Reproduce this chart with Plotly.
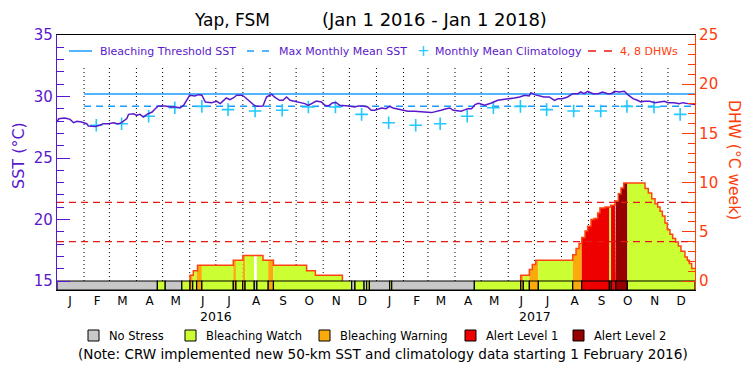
import plotly.graph_objects as go
import pandas as pd
import numpy as np

# ------------------------------------------------------------------ data
# SST (deg C), days since 2016-01-01
sst_day = [0, 2, 9, 15, 19, 23, 28, 34, 36, 44, 49, 53, 59, 65, 70, 74, 80, 82, 88, 91,
           95, 99, 103, 109, 112, 116, 124, 130, 135, 141, 145, 149, 152, 158, 162, 166, 170, 177, 183, 187,
           191, 194, 198, 202, 206, 212, 215, 221, 227, 231, 236, 240,
           246, 249, 255, 259, 263, 267, 272, 278, 284, 288, 291, 297, 303, 307, 311, 316, 320, 324,
           334, 341, 345, 351, 356, 360, 364, 372, 377, 381, 385, 389, 395, 402, 410, 416, 421, 429,
           433, 437, 440, 446, 450, 454, 460, 463, 467, 471, 475, 479, 483,
           490, 497, 505, 513, 520, 524, 530, 536, 541, 543, 547, 553, 558, 564, 570, 574, 579, 585,
           591, 597, 600, 604, 608, 614, 620, 625, 631, 635, 639, 644, 650, 654, 660, 665, 669, 673,
           679, 685, 690, 696, 700, 707, 713, 717, 723, 728, 731]
sst_val = [27.93, 28.20, 28.25, 28.14, 27.87, 27.98, 27.93, 27.79, 27.60, 27.57, 27.66, 27.79, 27.79, 27.87, 27.76, 27.87, 28.20, 28.55, 28.60, 28.47,
           28.55, 28.33, 28.55, 28.74, 28.96, 29.23, 29.23, 29.15, 29.15, 29.09, 29.28, 29.69, 30.10, 30.05, 30.15, 30.10, 29.55, 29.50, 29.61, 29.42,
           29.69, 29.88, 29.74, 29.88, 30.10, 30.10, 29.96, 29.61, 29.23, 29.20, 29.23, 29.96,
           30.18, 29.96, 29.69, 29.69, 29.96, 29.69, 29.61, 29.55, 29.42, 29.28, 29.42, 29.63, 29.55, 29.28, 29.23, 29.50, 29.50, 29.28,
           29.23, 29.15, 29.23, 29.23, 29.15, 28.88, 28.88, 29.07, 29.01, 29.20, 29.07, 29.01, 28.88, 28.80, 28.80, 28.74, 28.74, 28.69,
           28.74, 28.80, 28.88, 29.01, 29.07, 28.88, 28.80, 28.80, 28.91, 29.01, 29.01, 29.34, 29.45,
           29.30, 29.45, 29.69, 29.77, 29.82, 29.88, 29.96, 30.10, 30.04, 30.31, 30.15, 30.04, 29.96, 29.96, 29.69, 29.82, 29.82, 29.96,
           30.23, 30.23, 30.37, 30.23, 30.42, 30.23, 30.23, 30.37, 30.23, 30.23, 30.42, 30.37, 30.42, 30.15, 29.82, 29.69, 29.55, 29.61,
           29.61, 29.50, 29.55, 29.61, 29.50, 29.50, 29.42, 29.50, 29.42, 29.34, 29.34]

# Monthly mean climatology (Feb 2016 .. Dec 2017, plotted mid-month)
clim_month = ['2016-02', '2016-03', '2016-04', '2016-05', '2016-06', '2016-07', '2016-08', '2016-09',
              '2016-10', '2016-11', '2016-12', '2017-01', '2017-02', '2017-03', '2017-04', '2017-05',
              '2017-06', '2017-07', '2017-08', '2017-09', '2017-10', '2017-11', '2017-12']
clim_val = [27.66, 27.79, 28.39, 29.09, 29.20, 28.93, 28.82, 28.88, 29.15, 29.15, 28.55, 27.87,
            27.66, 27.79, 28.39, 29.09, 29.20, 28.93, 28.82, 28.82, 29.20, 29.15, 28.55]

threshold_sst = 30.2
mmm_sst = 29.2
clim_start_day = 31          # new climatology from 1 Feb 2016
dhw_levels = [4, 8]

# Degree Heating Weeks: step function, value from each day onward
dhw_day = [0, 152.4, 156.2, 161, 202, 213, 236, 248, 286, 296, 327,
           531.3, 541.2, 544.6, 548.5, 590.9, 594.7, 598.1, 601.2, 605.0, 608.0, 611.9, 615.3,
           619.5, 622.1, 627.9, 634.4, 639.4, 643.2, 646.2, 649.3, 673.7, 677.5, 681.4, 685.2,
           688.2, 690.9, 693.6, 696.6, 699.3, 702.3, 705.4, 708.8, 711.9, 714.9, 719.5, 722.2,
           724.5, 727.2]
dhw_val = [0, 0.58, 1.05, 1.60, 2.10, 2.60, 2.10, 1.60, 1.05, 0.58, 0,
           0.58, 1.16, 1.67, 2.10, 2.68, 3.29, 3.80, 4.41, 5.08, 5.56, 6.24, 6.34,
           6.91, 7.42, 7.52, 7.69, 8.13, 8.87, 9.45, 9.96, 9.39, 8.95, 8.37, 7.86,
           7.52, 7.08, 6.60, 5.89, 5.22, 4.75, 4.31, 3.97, 3.56, 3.02, 2.45, 2.10,
           1.77, 1.26]

# Bleaching alert level runs (0 No Stress, 1 Watch, 2 Warning, 3 Alert 1, 4 Alert 2)
stress_start = [0, 115, 124, 143, 152.4, 155.5, 160, 166, 202, 205, 212.7, 215.5, 226, 229, 242, 248,
                337.6, 341.4, 351.8, 354.8, 357.9, 381.2, 383.5, 478.2, 531.3, 534.3, 541.2, 551.5,
                590.9, 601.2, 632.9, 634.8, 640.2, 653.5]
stress_end = stress_start[1:] + [731]
stress_level = [0, 1, 0, 1, 2, 1, 2, 1, 2, 1, 2, 1, 0, 1, 2, 1,
                0, 1, 0, 1, 0, 1, 0, 1, 2, 1, 2, 1,
                2, 3, 1, 3, 4, 1]
level_names = ['No Stress', 'Bleaching Watch', 'Bleaching Warning', 'Alert Level 1', 'Alert Level 2']
month_letters = ['J', 'F', 'M', 'A', 'M', 'J', 'J', 'A', 'S', 'O', 'N', 'D']
years = ['2016', '2017']

# ------------------------------------------------------------------ style
PURPLE = '#5a18cc'
BLUE = '#1a9cff'
CYAN = '#22c8ff'
AXRED = '#ff3c0c'
DHWLINE = '#ff4412'
DASHRED = '#e81818'
level_colors = ['#c8c8c8', '#ccff33', '#faaa0a', '#ee0000', '#960000']
area_colors = ['#ffffff', '#ccff33', '#faaa0a', '#ee0000', '#960000']
FONT = 'DejaVu Sans'
BAR_BOTTOM = -0.915
Y2_RANGE = [BAR_BOTTOM, 25]
Y_RANGE = [15 + BAR_BOTTOM * 0.8, 35]
N_DAYS = 731

base = pd.Timestamp('2016-01-01')


def dt(d):
    return base + pd.to_timedelta(d, unit='D')


def dts(ds):
    return [None if d is None else dt(d) for d in ds]


def dhw_at(t):
    i = np.searchsorted(dhw_day, t, side='right') - 1
    return dhw_val[max(i, 0)]


fig = go.Figure()

# dotted month grid (drawn under the DHW fills)
gx, gy = [], []
for m in pd.date_range('2016-02-01', '2017-12-01', freq='MS'):
    gx += [m, m, None]
    gy += [15, 32.4, None]
fig.add_trace(go.Scatter(x=gx, y=gy, mode='lines', yaxis='y',
                         line=dict(color='black', width=1, dash='1px,3px'), hoverinfo='skip'))

# threshold & MMM lines
fig.add_trace(go.Scatter(x=[dt(clim_start_day), dt(N_DAYS)], y=[threshold_sst] * 2, mode='lines',
                         line=dict(color=BLUE, width=1.5), name='Bleaching Threshold SST'))
fig.add_trace(go.Scatter(x=[dt(clim_start_day), dt(N_DAYS)], y=[mmm_sst] * 2, mode='lines',
                         line=dict(color=BLUE, width=1.5, dash='7px,5px'), name='Max Monthly Mean SST'))
# climatology crosses
fig.add_trace(go.Scatter(x=[pd.Timestamp(m + '-15') for m in clim_month], y=clim_val, mode='markers',
                         marker=dict(symbol='cross-thin', size=9, line=dict(color=CYAN, width=1.6)),
                         name='Monthly Mean Climatology'))
# SST
fig.add_trace(go.Scatter(x=dts(sst_day), y=sst_val, mode='lines',
                         line=dict(color=PURPLE, width=1.5), name='SST'))

# DHW area, filled by alert level
for a, b, lev in zip(stress_start, stress_end, stress_level):
    xs, ys = [a], [0.0]
    cur = dhw_at(a)
    xs.append(a); ys.append(cur)
    for t in dhw_day:
        if a < t < b:
            xs += [t, t]
            ys += [cur, dhw_at(t)]
            cur = dhw_at(t)
    xs += [b, b]
    ys += [cur, 0.0]
    if max(ys) <= 0:
        continue
    fig.add_trace(go.Scatter(x=dts(xs), y=ys, mode='lines', fill='toself', yaxis='y2',
                             fillcolor=area_colors[lev], line=dict(width=0, color=area_colors[lev]),
                             hoverinfo='skip'))

# DHW outline
ox, oy = [], []
prev = 0
for i, (d, v) in enumerate(zip(dhw_day, dhw_val)):
    if v > 0 and prev == 0:
        ox += [d, d]; oy += [0, v]
    elif v > 0:
        ox.append(d); oy.append(v)
    elif v == 0 and prev > 0:
        ox += [d, None]; oy += [0, None]
    prev = v
if prev > 0:
    ox.append(N_DAYS); oy.append(prev)
fig.add_trace(go.Scatter(x=dts(ox), y=oy, mode='lines', yaxis='y2', line_shape='hv',
                         line=dict(color=DHWLINE, width=1.5), connectgaps=False, name='DHW'))

# 4, 8 DHW lines
for lv in dhw_levels:
    fig.add_trace(go.Scatter(x=[dt(0), dt(N_DAYS)], y=[lv, lv], mode='lines', yaxis='y2',
                             line=dict(color=DASHRED, width=1.3, dash='7px,5px')))

# stress bar
for a, b, lev in zip(stress_start, stress_end, stress_level):
    fig.add_trace(go.Scatter(x=dts([a, b, b, a, a]),
                             y=[BAR_BOTTOM, BAR_BOTTOM, 0, 0, BAR_BOTTOM], yaxis='y2',
                             mode='lines', fill='toself', fillcolor=level_colors[lev],
                             line=dict(color='black', width=1.2), hoverinfo='skip'))

# ------------------------------------------------------------------ layout
L, R, T, B = 57, 695, 35, 290


def px(x):
    return (x - L) / (R - L)


def py(y):
    return (B - y) / (B - T)


mid_months = [m + pd.Timedelta(days=15) for m in pd.date_range('2016-01-01', '2017-12-01', freq='MS')]

fig.update_layout(
    width=750, height=375,
    margin=dict(l=L, r=750 - R, t=T, b=375 - B, autoexpand=False),
    paper_bgcolor='white', plot_bgcolor='white',
    showlegend=False,
    font=dict(family=FONT, color='black'),
    xaxis=dict(type='date', range=[dt(0), dt(N_DAYS)], showgrid=False, zeroline=False, automargin=False,
               showline=True, linecolor='black', linewidth=1, mirror=True, ticks='',
               tickvals=mid_months, ticktext=month_letters * 2, tickangle=0,
               tickfont=dict(size=12, color='black', family=FONT)),
    yaxis=dict(range=Y_RANGE, tick0=15, dtick=5, ticks='inside', ticklen=13, tickwidth=1,
               tickcolor=PURPLE, showline=True, linecolor=PURPLE, linewidth=1.2, automargin=False,
               showgrid=False, zeroline=False,
               tickfont=dict(size=15, color=PURPLE, family=FONT),
               minor=dict(dtick=1, ticks='inside', ticklen=7, tickcolor=PURPLE, tickwidth=1)),
    yaxis2=dict(range=Y2_RANGE, overlaying='y', side='right', tick0=0, dtick=5, ticks='inside',
                ticklen=13, tickwidth=1, tickcolor=AXRED, showline=True, linecolor=AXRED, linewidth=1.2,
                showgrid=False, zeroline=False, automargin=False,
                tickfont=dict(size=15, color=AXRED, family=FONT),
                minor=dict(dtick=1, ticks='inside', ticklen=7, tickcolor=AXRED, tickwidth=1)),
)


def note(text, x, y, size, color, anchor='center', angle=0):
    return dict(text=text, x=px(x), y=py(y), xref='paper', yref='paper', showarrow=False,
                xanchor=anchor, yanchor='middle', textangle=angle,
                font=dict(size=size, color=color, family=FONT))


ann = []
# title
ann.append(note('Yap, FSM', 232, 20, 17, 'black'))
ann.append(note('(Jan 1 2016 - Jan 1 2018)', 434, 20, 18, 'black'))
# axis titles
ann.append(note('SST (°C)', 18, 156, 16, PURPLE, angle=-90))
ann.append(note('DHW (°C week)', 734, 160, 15.5, AXRED, angle=90))
# years
for i, yr in enumerate(years):
    ann.append(dict(text=yr, x=dt(182.5 + 365 * i), xref='x', y=py(316), yref='paper', showarrow=False,
                    xanchor='center', yanchor='middle', font=dict(size=12.5, color='black', family=FONT)))
# top legend texts
top_items = [('Bleaching Threshold SST', 98, PURPLE), ('Max Monthly Mean SST', 277, PURPLE),
             ('Monthly Mean Climatology', 433, PURPLE), ('4, 8 DHWs', 618, AXRED)]
for txt, x0, c in top_items:
    ann.append(note(txt, x0, 51, 11, c, anchor='left'))
ann.append(note('+', 423, 51, 15, CYAN))
# bottom legend
box_x = [88, 185, 319, 465, 573]
shapes = []
for name, bx, c in zip(level_names, box_x, level_colors):
    shapes.append(dict(type='rect', xref='paper', yref='paper', x0=px(bx), x1=px(bx + 11),
                       y0=py(330), y1=py(341), fillcolor=c, line=dict(color='black', width=1)))
    ann.append(note(name, bx + 19, 336, 11.5, 'black', anchor='left'))
ann.append(note('(Note: CRW implemented new 50-km SST and climatology data starting 1 February 2016)',
                383, 354, 13.6, 'black'))

# legend line samples
shapes.append(dict(type='line', xref='paper', yref='paper', x0=px(69), x1=px(92), y0=py(51), y1=py(51),
                   line=dict(color=BLUE, width=1.5)))
shapes.append(dict(type='line', xref='paper', yref='paper', x0=px(247), x1=px(269), y0=py(51), y1=py(51),
                   line=dict(color=BLUE, width=1.5, dash='7px,8px')))
shapes.append(dict(type='line', xref='paper', yref='paper', x0=px(588), x1=px(612), y0=py(51), y1=py(51),
                   line=dict(color=DASHRED, width=1.5, dash='8px,8px')))

fig.update_layout(annotations=ann, shapes=shapes)
fig.write_html('out.html', config={'displayModeBar': False},
               post_script="document.body.style.margin='0px';document.body.style.overflow='hidden';")
